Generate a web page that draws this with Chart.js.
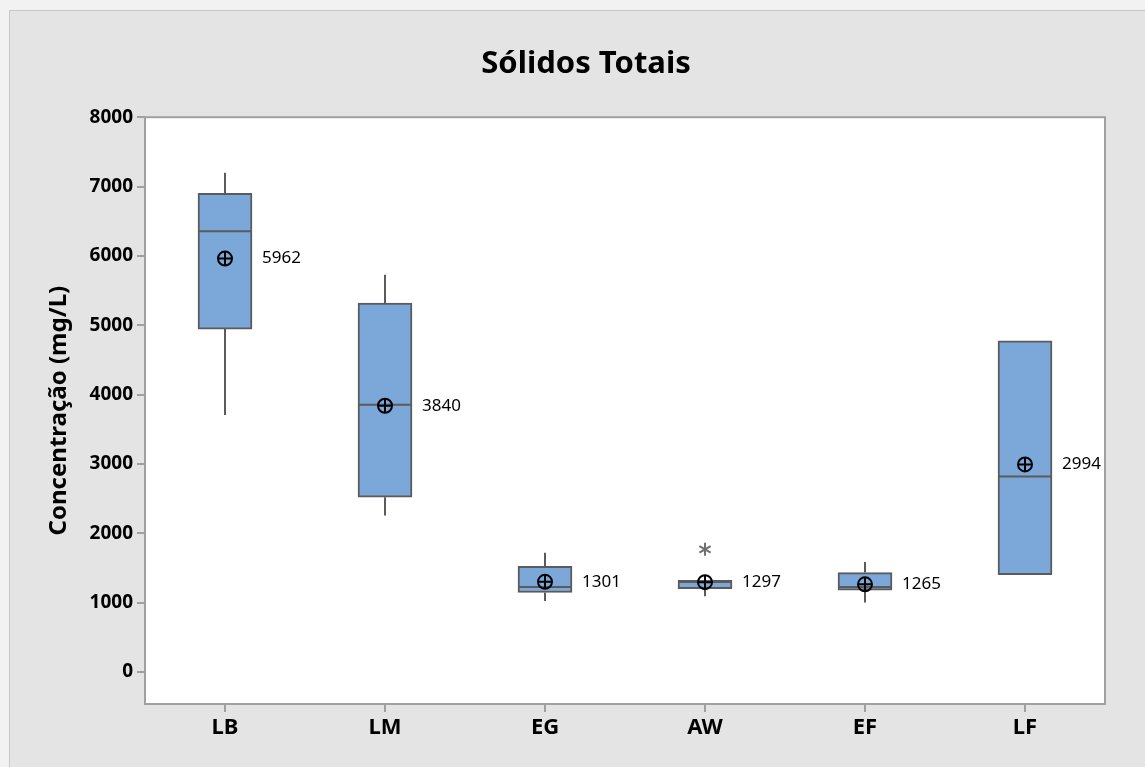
<!DOCTYPE html>
<html>
<head>
<meta charset="utf-8">
<script src="https://cdn.jsdelivr.net/npm/chart.js@4.4.1/dist/chart.umd.min.js"></script>
<style>
  html, body { margin: 0; padding: 0; background: #f2f2f2; overflow: hidden; width: 1145px; height: 767px; }
  #frame { position: absolute; left: 9px; top: 10px; width: 1160px; height: 770px;
           border-left: 1px solid #c8c8c8; border-top: 1px solid #c8c8c8; background: #e4e4e4; }
  #wrap { position: absolute; left: 0; top: 0; width: 1152px; height: 756px; }
</style>
</head>
<body>
<div id="frame"><div id="wrap"><canvas id="c" width="1152" height="756"></canvas></div></div>
<script>
const categories = ['LB', 'LM', 'EG', 'AW', 'EF', 'LF'];
const whiskerLow  = [3708, 2259, 1026, 1094, 1003, 1405];
const q1          = [4945, 2522, 1147, 1204, 1180, 1405];
const median      = [6355, 3856, 1227, 1300, 1228, 2820];
const q3          = [6902, 5319, 1525, 1322, 1435, 4777];
const whiskerHigh = [7199, 5727, 1722, 1322, 1587, 4777];
const means       = [5962, 3840, 1301, 1297, 1265, 2994];
const outlierCats = ['AW'];
const outlierVals = [1770];
const yTicks      = [0, 1000, 2000, 3000, 4000, 5000, 6000, 7000, 8000];

const FONT = '"Noto Sans", "Open Sans", sans-serif';
const LINE = '#5b5b5b';

const boxExtras = {
  id: 'boxExtras',
  afterDatasetDraw(chart, args) {
    if (args.meta.type !== 'bar') return;
    const x = chart.scales.x, y = chart.scales.y, ctx = chart.ctx;
    const half = 26;
    ctx.save();
    ctx.strokeStyle = LINE;
    ctx.lineWidth = 2;
    categories.forEach((c, i) => {
      const cx = x.getPixelForValue(i);
      ctx.beginPath();
      ctx.moveTo(cx, y.getPixelForValue(q3[i]));
      ctx.lineTo(cx, y.getPixelForValue(whiskerHigh[i]));
      ctx.moveTo(cx, y.getPixelForValue(q1[i]));
      ctx.lineTo(cx, y.getPixelForValue(whiskerLow[i]));
      const my = y.getPixelForValue(median[i]);
      ctx.moveTo(cx - half, my);
      ctx.lineTo(cx + half, my);
      ctx.stroke();
    });
    ctx.restore();
  },
  afterDatasetsDraw(chart) {
    const x = chart.scales.x, y = chart.scales.y, ctx = chart.ctx;
    const a = chart.chartArea;
    ctx.save();
    ctx.fillStyle = '#000';
    ctx.font = '17px ' + FONT;
    ctx.textBaseline = 'middle';
    ctx.textAlign = 'left';
    categories.forEach((c, i) => {
      ctx.fillText(String(means[i]), x.getPixelForValue(i) + 37, y.getPixelForValue(means[i]));
    });
    ctx.strokeStyle = '#707070';
    ctx.lineWidth = 2;
    outlierCats.forEach((c, k) => {
      const cx = x.getPixelForValue(categories.indexOf(c));
      const cy = y.getPixelForValue(outlierVals[k]);
      const r = 6.5;
      ctx.beginPath();
      for (let ang = 30; ang < 360; ang += 60) {
        const t = (ang + 60) * Math.PI / 180;
        ctx.moveTo(cx, cy);
        ctx.lineTo(cx + r * Math.cos(t), cy - r * Math.sin(t));
      }
      ctx.stroke();
    });
    ctx.strokeStyle = '#a0a0a0';
    ctx.lineWidth = 2;
    ctx.strokeRect(a.left, a.top, a.right - a.left, a.bottom - a.top);
    ctx.restore();
  },
  beforeDraw(chart) {
    const a = chart.chartArea, ctx = chart.ctx;
    ctx.save();
    ctx.fillStyle = '#ffffff';
    ctx.fillRect(a.left, a.top, a.right - a.left, a.bottom - a.top);
    ctx.restore();
  }
};

new Chart(document.getElementById('c'), {
  data: {
    labels: categories,
    datasets: [
      {
        type: 'line', label: 'cross', order: 0,
        data: means, showLine: false,
        pointStyle: 'cross', pointRadius: 7, pointHoverRadius: 7,
        pointBorderColor: '#000', pointBorderWidth: 2, pointBackgroundColor: 'rgba(0,0,0,0)'
      },
      {
        type: 'line', label: 'mean', order: 1,
        data: means, showLine: false,
        pointStyle: 'circle', pointRadius: 7, pointHoverRadius: 7,
        pointBorderColor: '#000', pointBorderWidth: 2, pointBackgroundColor: 'rgba(0,0,0,0)'
      },
      {
        type: 'bar', label: 'box', order: 3,
        data: categories.map((c, i) => [q1[i], q3[i]]),
        backgroundColor: '#7ba7d9', borderColor: LINE, borderWidth: 2,
        borderSkipped: false, barThickness: 54
      }
    ]
  },
  options: {
    responsive: false,
    animation: false,
    events: [],
    layout: { padding: { top: 0, right: 0, bottom: 3, left: 0 } },
    plugins: {
      legend: { display: false },
      tooltip: { enabled: false },
      title: {
        display: true, text: 'Sólidos Totais', color: '#000',
        font: { family: FONT, size: 31, weight: 'bold' },
        padding: { top: 35, bottom: 34 }
      }
    },
    scales: {
      x: {
        type: 'category', offset: true,
        grid: { display: true, drawOnChartArea: false, drawTicks: true, tickLength: 8, color: '#a0a0a0', lineWidth: 2, offset: false },
        border: { display: false },
        ticks: { color: '#000', font: { family: FONT, size: 22, weight: 'bold' }, padding: 3 },
        afterFit(s) { s.height = 60; }
      },
      y: {
        type: 'linear', position: 'left', min: -460, max: 8000,
        grid: { display: true, drawOnChartArea: false, drawTicks: true, tickLength: 8, color: '#a0a0a0', lineWidth: 2 },
        border: { display: false },
        afterBuildTicks(s) { s.ticks = yTicks.map(v => ({ value: v })); },
        ticks: { color: '#000', font: { family: FONT, size: 19, weight: 'bold' }, padding: 4,
                 callback: v => String(v) },
        title: { display: true, text: 'Concentração (mg/L)', color: '#000',
                 font: { family: FONT, size: 24, weight: 'bold' }, padding: { top: 35, bottom: 0 } },
        afterFit(s) { s.width = 135; }
      },
      yRight: {
        type: 'linear', position: 'right', display: true,
        grid: { display: false }, border: { display: false },
        ticks: { display: false },
        afterFit(s) { s.width = 57; }
      }
    }
  },
  plugins: [boxExtras]
});
</script>
</body>
</html>
